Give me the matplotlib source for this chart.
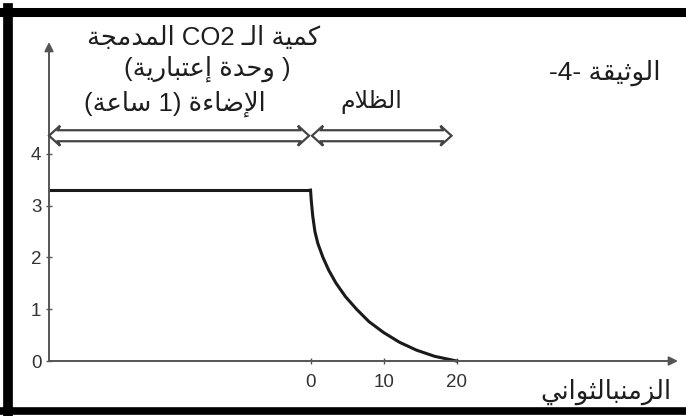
import matplotlib
matplotlib.use('Agg')
import matplotlib.pyplot as plt
from matplotlib.lines import Line2D
from matplotlib.patches import Polygon
from matplotlib.transforms import IdentityTransform

# chart data
t_light = [-35.8, 0]            # light period (1 h), not to scale
co2_light = [3.3, 3.3]
t_dark = [0, 0.1, 0.3, 0.6, 1.0, 1.7, 2.5, 3.5, 4.8, 6.3, 8.0, 10.0, 12.2, 14.5, 17.0, 20.0]
co2_dark = [3.3, 3.1, 2.8, 2.5, 2.27, 2.0, 1.75, 1.5, 1.24, 1.0, 0.76, 0.55, 0.36, 0.21, 0.09, 0.0]
x_ticks = [0, 10, 20]
y_ticks = [0, 1, 2, 3, 4]
light_span = (-35.8, -0.2)
dark_span = (0.2, 19.3)
span_level = 4.35

ylabel_1 = 'كمية الـ CO2 المدمجة'
ylabel_2 = '( وحدة إعتبارية)'
light_label = 'الإضاءة (1 ساعة)'
dark_label = 'الظلام'
doc_label = 'الوثيقة -4-'
xlabel = 'الزمنبالثواني'

# matplotlib has no arabic shaping, so do a small one here
DUAL = {'ب': 0xFE8F, 'ت': 0xFE95, 'ث': 0xFE99, 'ج': 0xFE9D, 'ح': 0xFEA1, 'خ': 0xFEA5,
        'س': 0xFEB1, 'ش': 0xFEB5, 'ص': 0xFEB9, 'ض': 0xFEBD, 'ط': 0xFEC1, 'ظ': 0xFEC5,
        'ع': 0xFEC9, 'غ': 0xFECD, 'ف': 0xFED1, 'ق': 0xFED5, 'ك': 0xFED9, 'ل': 0xFEDD,
        'م': 0xFEE1, 'ن': 0xFEE5, 'ه': 0xFEE9, 'ي': 0xFEF1, 'ئ': 0xFE89}
RIGHT = {'آ': 0xFE81, 'أ': 0xFE83, 'ؤ': 0xFE85, 'إ': 0xFE87, 'ا': 0xFE8D, 'ة': 0xFE93,
         'د': 0xFEA9, 'ذ': 0xFEAB, 'ر': 0xFEAD, 'ز': 0xFEAF, 'و': 0xFEED, 'ى': 0xFEEF}
LAMALEF = {'آ': 0xFEF5, 'أ': 0xFEF7, 'إ': 0xFEF9, 'ا': 0xFEFB}


def shape(s):
    toks = []
    i = 0
    while i < len(s):
        c = s[i]
        if c == 'ل' and i + 1 < len(s) and s[i + 1] in LAMALEF:
            toks.append(('R', LAMALEF[s[i + 1]], None))
            i += 2
            continue
        if c in DUAL:
            toks.append(('D', DUAL[c], None))
        elif c in RIGHT:
            toks.append(('R', RIGHT[c], None))
        elif c == 'ـ':
            toks.append(('T', None, c))
        else:
            toks.append(('N', None, c))
        i += 1
    out = []
    for k, (kind, code, ch) in enumerate(toks):
        prev = toks[k - 1][0] if k > 0 else 'N'
        nxt = toks[k + 1][0] if k + 1 < len(toks) else 'N'
        jp = prev in ('D', 'T') and kind in ('D', 'R', 'T')
        jn = kind in ('D', 'T') and nxt in ('D', 'R', 'T')
        if kind == 'D':
            off = {(False, False): 0, (True, False): 1, (False, True): 2, (True, True): 3}[(jp, jn)]
            out.append(chr(code + off))
        elif kind == 'R':
            out.append(chr(code + (1 if jp else 0)))
        else:
            out.append(ch)
    return ''.join(out)


def ar(s):
    rev = shape(s)[::-1]
    out = []
    run = ''
    for ch in rev:
        if ch.isascii() and ch.isalnum():
            run += ch
        else:
            if run:
                out.append(run[::-1])
                run = ''
            out.append({'(': ')', ')': '('}.get(ch, ch))
    if run:
        out.append(run[::-1])
    return ''.join(out)


def hollow_arrow(fig, ax, span, level, h=5.5, w=10, L=9):
    # double headed open arrow, built in pixels from the data span
    (x0, y), (x1, _) = ax.transData.transform([(span[0], level), (span[1], level)])
    verts = [(x0, y), (x0 + L + 2, y + w), (x0 + L, y + h), (x1 - L, y + h),
             (x1 - L - 2, y + w), (x1, y), (x1 - L - 2, y - w), (x1 - L, y - h),
             (x0 + L, y - h), (x0 + L + 2, y - w)]
    fig.add_artist(Polygon(verts, closed=True, facecolor='white', edgecolor='#444444',
                           lw=1.6, joinstyle='miter', transform=IdentityTransform()))


plt.rcParams['font.family'] = ['Liberation Sans', 'DejaVu Sans']

fig = plt.figure(figsize=(6.86, 4.16), dpi=100)
ax = fig.add_axes([49 / 686, 1 - 361 / 416, 629 / 686, 319 / 416])
ax.set_xlim(-35.8, 50.3)
ax.set_ylim(0, 6.16)
for sp in ax.spines.values():
    sp.set_visible(False)

axis_col = '#555555'
ax.annotate('', xy=(1, 0), xytext=(0, 0), xycoords='axes fraction',
            arrowprops=dict(arrowstyle='-|>', color=axis_col, lw=1.4, mutation_scale=13,
                            shrinkA=0, shrinkB=0))
ax.annotate('', xy=(0, 1), xytext=(0, 0), xycoords='axes fraction',
            arrowprops=dict(arrowstyle='-|>', color=axis_col, lw=1.4, mutation_scale=13,
                            shrinkA=0, shrinkB=0))

ax.set_xticks(x_ticks)
ax.set_yticks(y_ticks)
ax.tick_params(direction='inout', length=5, width=1, colors=axis_col, labelcolor='#333333',
               labelsize=13.5)
ax.tick_params(axis='x', pad=7)
ax.tick_params(axis='y', pad=3)

ax.plot(t_light, co2_light, color='#1a1a1a', lw=2.2, clip_on=False, solid_capstyle='butt')
ax.plot(t_dark, co2_dark, color='#1a1a1a', lw=2.2, clip_on=False)

# hollow double arrows for light / dark
hollow_arrow(fig, ax, light_span, span_level)
hollow_arrow(fig, ax, dark_span, span_level)

txt = dict(color='#1e1e1e', ha='center', va='center')
fig.text(0.297, 0.909, ar(ylabel_1), fontsize=18.5, **txt)
fig.text(0.302, 0.835, ar(ylabel_2), fontsize=18.5, **txt)
fig.text(0.255, 0.750, ar(light_label), fontsize=18.5, **txt)
fig.text(0.542, 0.755, ar(dark_label), fontsize=17, **txt)
fig.text(0.882, 0.825, ar(doc_label), fontsize=19, **txt)
fig.text(0.884, 0.058, ar(xlabel), fontsize=18.5, **txt)

# thick frame of the document
fig.add_artist(Line2D([3 / 686, 1], [1 - 11.5 / 416] * 2, color='black', lw=6.5,
                      transform=fig.transFigure))
fig.add_artist(Line2D([8 / 686] * 2, [1 - 8 / 416, 1 - 414 / 416], color='black', lw=7,
                      transform=fig.transFigure))
fig.add_artist(Line2D([3 / 686, 1], [1 - 411 / 416] * 2, color='black', lw=5.5,
                      transform=fig.transFigure))

fig.savefig('out.png', dpi=100, facecolor='white')
